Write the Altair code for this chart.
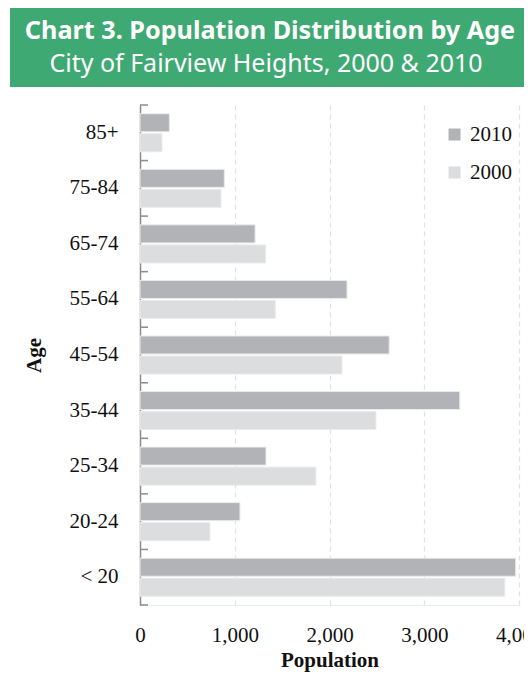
import altair as alt
import pandas as pd

ages = ["85+", "75-84", "65-74", "55-64", "45-54", "35-44", "25-34", "20-24", "< 20"]
pop_2010 = [310, 890, 1215, 2185, 2630, 3375, 1330, 1055, 3965]
pop_2000 = [232, 855, 1327, 1428, 2132, 2490, 1857, 738, 3850]
years = ["2010", "2000"]
x_ticks = [0, 1000, 2000, 3000, 4000]
title_text = "Chart 3. Population Distribution by Age"
subtitle_text = "City of Fairview Heights, 2000 & 2010"

rows = []
for a, v10, v00 in zip(ages, pop_2010, pop_2000):
    rows.append({"Age": a, "Year": "2010", "Population": v10})
    rows.append({"Age": a, "Year": "2000", "Population": v00})
df = pd.DataFrame(rows)

SERIF = "Liberation Serif"
AXIS_GRAY = "#8c8c8c"

y_scale = alt.Scale(domain=ages, paddingInner=0, paddingOuter=0)
y_axis = alt.Axis(ticks=False, domainColor=AXIS_GRAY, domainWidth=1.5,
                  labelPadding=22, title="Age", titlePadding=25, grid=False)

bars = alt.Chart(df).mark_bar(stroke="#ebebeb", strokeWidth=1).encode(
    x=alt.X("Population:Q",
            scale=alt.Scale(domain=[0, 4000], nice=False),
            axis=alt.Axis(values=x_ticks, format=",.0f", grid=True, gridDash=[5, 4],
                          gridColor="#e2e2e2", gridWidth=1.2, ticks=False, labelFlush=False,
                          domainColor="#ececec", labelPadding=19, titlePadding=4,
                          title="Population")),
    y=alt.Y("Age:N", sort=ages, scale=y_scale, axis=y_axis),
    yOffset=alt.YOffset("Year:N", sort=years,
                        scale=alt.Scale(domain=years, paddingInner=0.1, paddingOuter=0.4375)),
    color=alt.Color("Year:N",
                    scale=alt.Scale(domain=years, range=["#b1b3b6", "#dcdddf"]),
                    legend=alt.Legend(orient="none", legendX=304, legendY=19, title=None,
                                      symbolType="square", symbolSize=144, symbolStrokeWidth=0,
                                      labelFontSize=21, labelFont=SERIF, labelColor="#111",
                                      rowPadding=16, labelOffset=5, padding=0)),
)

tick_df = pd.DataFrame({"Age": ages})
ticks_top = alt.Chart(tick_df).mark_rule(color=AXIS_GRAY, strokeWidth=1.5).encode(
    y=alt.Y("Age:N", sort=ages, scale=y_scale, bandPosition=0, axis=y_axis),
    x=alt.value(0), x2=alt.value(8),
)
ticks_bottom = alt.Chart(pd.DataFrame({"Age": [ages[-1]]})).mark_rule(
    color=AXIS_GRAY, strokeWidth=1.5).encode(
    y=alt.Y("Age:N", sort=ages, scale=y_scale, bandPosition=1, axis=y_axis),
    x=alt.value(0), x2=alt.value(8),
)

one = pd.DataFrame({"k": [0]})
banner = alt.Chart(one).mark_rect(color="#3fa973").encode(
    x=alt.value(-130), x2=alt.value(420), y=alt.value(-97), y2=alt.value(-18)
)
title_mark = alt.Chart(one).mark_text(
    text=title_text, font="Noto Sans", fontWeight="bold", fontSize=25.2,
    color="white", align="center", baseline="middle").encode(
    x=alt.value(130), y=alt.value(-74))
subtitle_mark = alt.Chart(one).mark_text(
    text=subtitle_text, font="Noto Sans", fontSize=25,
    color="white", align="center", baseline="middle").encode(
    x=alt.value(126), y=alt.value(-41))

chart = alt.layer(banner, title_mark, subtitle_mark, bars, ticks_top, ticks_bottom).properties(
    width=379, height=500,
    autosize=alt.AutoSizeParams(type="none"),
    padding={"left": 132, "top": 97, "right": 5, "bottom": 70},
).configure_view(stroke=None).configure_axis(
    labelFont=SERIF, titleFont=SERIF, labelFontSize=21, titleFontSize=21,
    labelColor="#111", titleColor="#111", titleFontWeight="bold",
)

chart.save("out.html", embed_options={"renderer": "svg", "actions": False})
